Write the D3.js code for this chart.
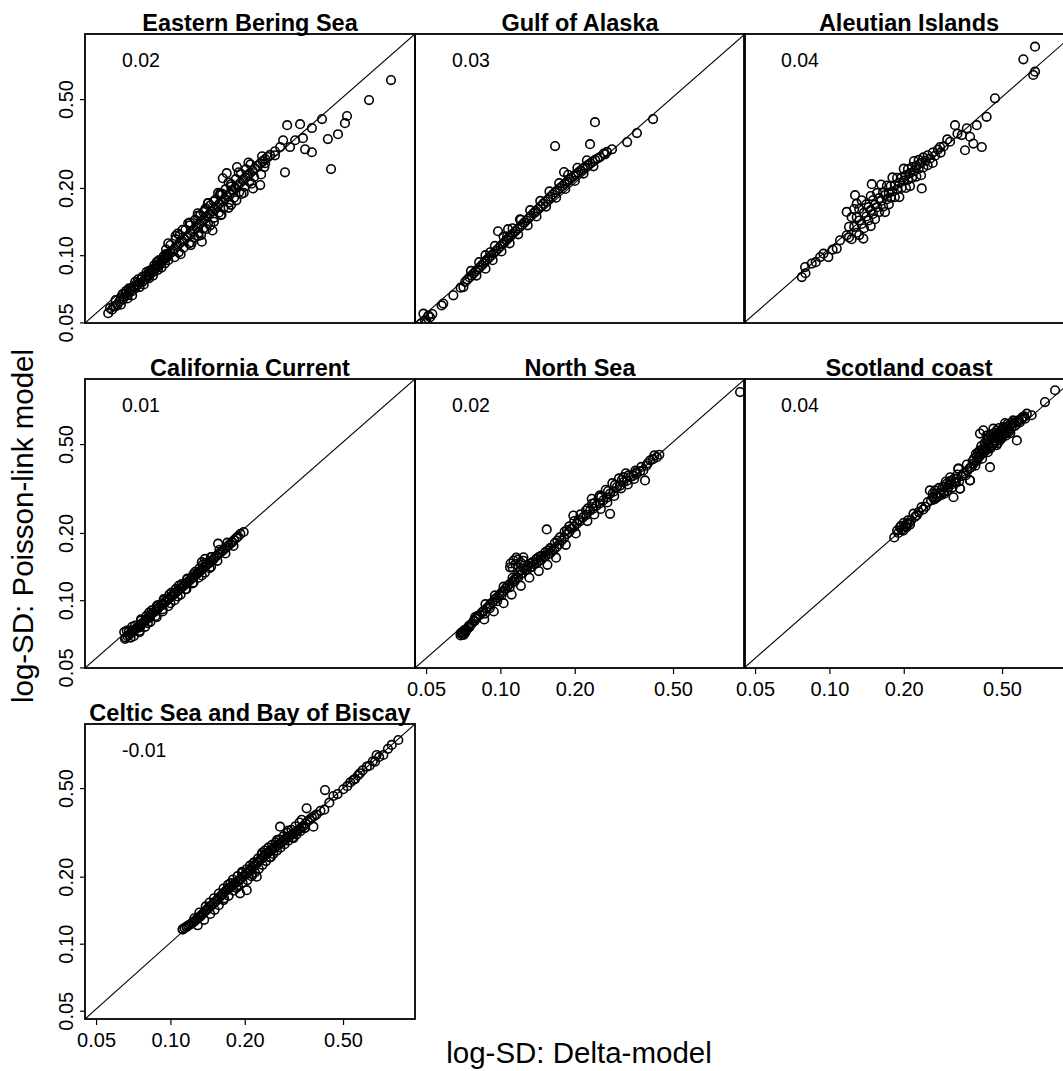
<!DOCTYPE html>
<html>
<head>
<meta charset="utf-8">
<script src="https://cdn.jsdelivr.net/npm/d3@7"></script>
<style>
  html, body { margin: 0; padding: 0; background: #fff; }
  svg { display: block; font-family: "Liberation Sans", Arial, sans-serif; }
</style>
</head>
<body>
<svg id="chart" width="1063" height="1071"></svg>
<script>
// ---------------- DATA ----------------
const titles = ["Eastern Bering Sea", "Gulf of Alaska", "Aleutian Islands",
                "California Current", "North Sea", "Scotland coast",
                "Celtic Sea and Bay of Biscay"];
const meanDiffs = ["0.02", "0.03", "0.04", "0.01", "0.02", "0.04", "-0.01"];
const tickValues = [0.05, 0.10, 0.20, 0.50];
const tickLabels = ["0.05", "0.10", "0.20", "0.50"];
const xLabel = "log-SD: Delta-model";
const yLabel = "log-SD: Poisson-link model";

// [Delta-model log-SD, Poisson-link log-SD]
const easternBeringSea = [
  [0.056,0.055],[0.058,0.057],[0.059,0.059],[0.061,0.060],[0.062,0.062],[0.064,0.063],[0.065,0.065],[0.067,0.066],
  [0.068,0.068],[0.070,0.069],[0.072,0.071],[0.073,0.073],[0.075,0.075],[0.077,0.076],[0.079,0.078],[0.081,0.080],
  [0.083,0.083],[0.085,0.084],[0.087,0.087],[0.089,0.089],[0.091,0.092],[0.093,0.094],[0.095,0.097],[0.097,0.099],
  [0.060,0.063],[0.064,0.067],[0.068,0.071],[0.072,0.076],[0.077,0.080],[0.082,0.085],[0.086,0.090],[0.090,0.095],
  [0.094,0.099],[0.063,0.060],[0.070,0.066],[0.078,0.074],[0.085,0.081],[0.092,0.088],[0.098,0.095],
  [0.057,0.058],[0.060,0.059],[0.063,0.064],[0.066,0.067],[0.069,0.070],[0.071,0.072],[0.074,0.074],[0.076,0.078],
  [0.080,0.081],[0.082,0.082],[0.084,0.086],[0.086,0.086],[0.088,0.090],[0.090,0.090],[0.092,0.094],[0.094,0.096],
  [0.096,0.097],[0.098,0.101],[0.066,0.069],[0.074,0.078],[0.080,0.084],[0.088,0.093],[0.096,0.101],[0.067,0.064],
  [0.075,0.072],[0.082,0.079],[0.089,0.086],[0.095,0.092],
  [0.100,0.102],[0.104,0.107],[0.109,0.113],[0.114,0.118],[0.120,0.125],[0.125,0.131],[0.131,0.138],[0.137,0.145],
  [0.144,0.153],[0.151,0.161],[0.158,0.170],[0.166,0.179],[0.174,0.189],[0.183,0.200],[0.192,0.211],[0.201,0.222],
  [0.210,0.233],[0.220,0.245],[0.231,0.258],[0.242,0.269],[0.253,0.281],[0.265,0.292],[0.278,0.305],
  [0.102,0.1045],[0.1065,0.110],[0.1115,0.1155],[0.117,0.1215],[0.1225,0.128],[0.128,0.1345],[0.134,0.1415],
  [0.1405,0.149],[0.1475,0.157],[0.1545,0.1655],[0.162,0.1745],[0.170,0.184],[0.1785,0.1945],[0.1875,0.2055],
  [0.1965,0.2165],[0.2055,0.2275],[0.215,0.239],[0.2255,0.2515],[0.2365,0.2635],[0.2475,0.275],
  [0.096,0.106],[0.104,0.098],[0.100,0.111],[0.108,0.103],[0.105,0.118],[0.113,0.108],[0.109,0.123],[0.119,0.113],
  [0.115,0.130],[0.125,0.120],[0.120,0.136],[0.130,0.126],[0.126,0.144],[0.136,0.132],[0.132,0.151],[0.142,0.139],
  [0.138,0.159],[0.150,0.147],[0.145,0.167],[0.157,0.155],[0.152,0.177],[0.164,0.163],[0.159,0.186],[0.173,0.172],
  [0.167,0.197],[0.181,0.181],[0.176,0.208],[0.190,0.192],[0.184,0.219],[0.200,0.203],[0.193,0.231],[0.209,0.213],
  [0.202,0.242],[0.218,0.224],[0.211,0.255],[0.240,0.248],
  [0.098,0.113],[0.110,0.101],[0.107,0.125],[0.121,0.111],[0.118,0.139],[0.133,0.123],[0.129,0.154],[0.145,0.136],
  [0.142,0.171],[0.160,0.151],[0.156,0.190],[0.176,0.168],[0.172,0.212],[0.194,0.188],[0.189,0.235],[0.213,0.209],
  [0.207,0.260],[0.233,0.230],
  [0.105,0.122],[0.122,0.114],[0.112,0.130],[0.130,0.122],[0.120,0.140],[0.140,0.131],[0.129,0.150],[0.150,0.141],
  [0.139,0.162],[0.161,0.152],[0.150,0.174],[0.172,0.163],[0.162,0.188],[0.185,0.176],[0.176,0.203],[0.198,0.190],
  [0.136,0.156],[0.142,0.171],[0.159,0.189],[0.163,0.221],[0.169,0.233],[0.186,0.248],[0.235,0.277],[0.148,0.129],
  [0.134,0.115],[0.216,0.199],[0.231,0.206],[0.297,0.382],[0.335,0.386],[0.411,0.407],[0.374,0.371],[0.519,0.420],
  [0.509,0.390],[0.477,0.348],[0.434,0.331],[0.447,0.243],[0.291,0.235],[0.351,0.298],[0.374,0.289],[0.637,0.495],
  [0.782,0.608],[0.286,0.327],[0.305,0.305],[0.320,0.327],[0.344,0.334],[0.265,0.280],[0.242,0.258]
];

const gulfOfAlaska = [
  [0.0465,0.0468],[0.0488,0.0547],[0.0495,0.0510],[0.0511,0.0537],[0.0519,0.0528],[0.0478,0.0495],[0.0502,0.0500],
  [0.0530,0.0545],[0.0578,0.0596],[0.0587,0.0607],[0.0645,0.0661],[0.0708,0.0720],[0.0690,0.0715],
  [0.072,0.076],[0.075,0.0795],[0.078,0.083],[0.081,0.0865],[0.084,0.090],[0.087,0.094],[0.090,0.0975],[0.094,0.102],
  [0.098,0.107],[0.102,0.112],[0.106,0.117],[0.110,0.122],[0.115,0.128],[0.120,0.134],[0.125,0.140],[0.130,0.146],
  [0.136,0.154],[0.142,0.161],[0.149,0.170],[0.156,0.178],[0.163,0.187],[0.170,0.195],[0.178,0.204],[0.186,0.213],
  [0.194,0.222],[0.202,0.230],[0.211,0.239],[0.220,0.248],[0.231,0.258],[0.242,0.267],[0.253,0.275],[0.265,0.283],
  [0.0735,0.0778],[0.0765,0.0812],[0.0795,0.0848],[0.0825,0.0882],[0.0855,0.092],[0.0885,0.0958],[0.092,0.0998],
  [0.096,0.1045],[0.100,0.1095],[0.104,0.1145],[0.108,0.1195],[0.1125,0.125],[0.1175,0.131],[0.1225,0.137],
  [0.1275,0.143],[0.133,0.150],[0.139,0.1575],[0.1455,0.1655],[0.1525,0.174],[0.1595,0.1825],[0.1665,0.191],
  [0.174,0.1995],[0.182,0.2085],[0.190,0.2175],[0.198,0.226],[0.2065,0.2345],[0.2155,0.2435],[0.2255,0.253],
  [0.2365,0.2625],[0.2475,0.271],
  [0.076,0.085],[0.080,0.081],[0.082,0.093],[0.087,0.087],[0.087,0.100],[0.093,0.095],[0.095,0.110],[0.101,0.104],
  [0.103,0.121],[0.109,0.113],[0.112,0.132],[0.118,0.124],[0.121,0.144],[0.129,0.136],[0.132,0.159],[0.140,0.149],
  [0.145,0.175],[0.153,0.165],[0.158,0.193],[0.168,0.181],[0.173,0.210],[0.183,0.198],[0.188,0.229],[0.200,0.215],
  [0.205,0.246],[0.217,0.232],[0.224,0.266],[0.238,0.250],
  [0.2415,0.394],[0.1665,0.308],[0.2306,0.314],[0.181,0.2355],[0.0978,0.128],[0.1074,0.1307],[0.120,0.1448],
  [0.0908,0.103],[0.138,0.1556],[0.1064,0.1215],
  [0.283,0.298],[0.326,0.321],[0.357,0.352],[0.415,0.407],[0.270,0.290],[0.262,0.285]
];

const aleutianIslands = [
  [0.0773,0.0798],[0.0797,0.0885],[0.0848,0.0917],[0.0917,0.0981],[0.0946,0.1016],[0.099,0.0981],[0.1071,0.107],
  [0.1104,0.1166],[0.1175,0.1228],[0.0800,0.0830],[0.0880,0.0930],[0.1030,0.1060],
  [0.120,0.120],[0.120,0.134],[0.123,0.148],[0.123,0.118],[0.126,0.134],[0.126,0.161],[0.129,0.126],[0.129,0.148],
  [0.132,0.143],[0.132,0.161],[0.132,0.123],[0.135,0.138],[0.135,0.176],[0.138,0.155],[0.138,0.132],[0.141,0.149],
  [0.141,0.169],[0.144,0.143],[0.144,0.164],[0.147,0.184],[0.147,0.159],[0.147,0.135],[0.150,0.153],[0.150,0.176],
  [0.153,0.168],[0.153,0.145],[0.156,0.164],[0.156,0.190],[0.159,0.156],[0.159,0.180],[0.162,0.175],[0.162,0.207],
  [0.165,0.165],[0.165,0.191],[0.168,0.186],[0.168,0.156],[0.171,0.178],[0.171,0.205],[0.174,0.190],[0.174,0.169],
  [0.177,0.204],[0.177,0.181],[0.180,0.193],[0.180,0.223],[0.184,0.182],[0.184,0.206],[0.188,0.197],[0.188,0.222],
  [0.192,0.211],[0.192,0.182],[0.196,0.200],[0.196,0.223],[0.200,0.216],[0.200,0.244],[0.204,0.200],[0.204,0.228],
  [0.208,0.218],[0.208,0.243],[0.212,0.233],[0.212,0.204],[0.216,0.222],[0.216,0.248],[0.220,0.238],[0.220,0.264],
  [0.225,0.225],[0.225,0.252],[0.230,0.244],[0.230,0.267],[0.235,0.259],[0.235,0.228],[0.240,0.247],[0.240,0.274],
  [0.245,0.265],[0.250,0.253],[0.250,0.280],[0.256,0.271],[0.262,0.288],[0.262,0.259],[0.268,0.279],[0.275,0.297],
  [0.282,0.288],[0.290,0.307],
  [0.1175,0.1562],[0.127,0.1856],[0.1484,0.208],[0.129,0.170],[0.1372,0.1187],[0.2365,0.199],[0.308,0.322],
  [0.3225,0.382],[0.3435,0.345],[0.371,0.339],[0.395,0.382],[0.3826,0.316],[0.354,0.295],[0.414,0.305],
  [0.433,0.4165],[0.468,0.504],[0.610,0.753],[0.680,0.858],[0.680,0.663],[0.669,0.641],[0.2805,0.305],
  [0.300,0.330],[0.330,0.350],[0.360,0.370]
];

const californiaCurrent = [
  [0.0655,0.0671],[0.0666,0.0730],[0.0753,0.0756],[0.0827,0.0838],
  [0.066,0.068],[0.068,0.070],[0.070,0.072],[0.072,0.074],[0.074,0.076],[0.076,0.078],[0.078,0.080],[0.080,0.082],
  [0.082,0.084],[0.084,0.087],[0.087,0.089],[0.089,0.092],[0.092,0.095],[0.095,0.098],[0.098,0.101],[0.101,0.104],
  [0.104,0.107],[0.107,0.110],[0.110,0.113],[0.114,0.117],[0.118,0.121],[0.122,0.125],[0.126,0.129],[0.130,0.133],
  [0.134,0.137],[0.139,0.142],[0.144,0.147],[0.149,0.152],[0.154,0.158],[0.160,0.164],[0.166,0.170],[0.172,0.176],
  [0.178,0.182],[0.185,0.190],[0.192,0.198],[0.198,0.202],
  [0.067,0.069],[0.069,0.071],[0.071,0.073],[0.073,0.075],[0.075,0.077],[0.077,0.079],[0.079,0.081],[0.081,0.083],
  [0.083,0.086],[0.085,0.088],[0.088,0.091],[0.090,0.093],[0.093,0.096],[0.096,0.099],[0.099,0.102],[0.102,0.105],
  [0.105,0.108],[0.108,0.111],[0.112,0.115],[0.116,0.119],[0.120,0.123],[0.124,0.127],[0.128,0.131],[0.132,0.135],
  [0.136,0.140],[0.141,0.145],[0.146,0.150],[0.151,0.155],[0.157,0.161],[0.163,0.167],[0.169,0.173],[0.175,0.179],
  [0.181,0.186],[0.188,0.193],
  [0.068,0.073],[0.072,0.077],[0.076,0.081],[0.080,0.085],[0.084,0.090],[0.089,0.095],[0.094,0.100],[0.099,0.106],
  [0.105,0.112],[0.111,0.118],[0.117,0.124],[0.124,0.131],[0.131,0.139],[0.139,0.147],[0.147,0.156],[0.071,0.069],
  [0.075,0.072],[0.079,0.076],[0.083,0.080],[0.088,0.084],[0.093,0.089],[0.098,0.094],[0.104,0.100],[0.110,0.106],
  [0.116,0.112],[0.123,0.119],[0.130,0.126],[0.138,0.133],[0.146,0.141],
  [0.065,0.072],[0.069,0.068],[0.070,0.076],[0.075,0.073],[0.076,0.082],[0.081,0.079],[0.082,0.088],[0.087,0.085],
  [0.088,0.094],[0.093,0.091],[0.094,0.101],[0.100,0.097],[0.101,0.108],[0.107,0.104],[0.108,0.116],[0.115,0.112],
  [0.117,0.125],[0.124,0.120],[0.126,0.134],[0.134,0.129],[0.135,0.144],[0.144,0.139],[0.146,0.156],[0.155,0.150],
  [0.158,0.168],[0.167,0.162],[0.170,0.181],[0.180,0.175],[0.138,0.153],[0.156,0.179],[0.134,0.148]
];

const northSea = [
  [0.0690,0.0695],[0.0700,0.0705],[0.0710,0.0700],[0.0700,0.0720],[0.0720,0.0715],[0.0690,0.0710],[0.0730,0.0740],
  [0.0715,0.0735],[0.0740,0.0750],[0.0750,0.0760],[0.0719,0.0730],[0.0802,0.0838],
  [0.075,0.077],[0.078,0.081],[0.081,0.085],[0.084,0.088],[0.088,0.092],[0.091,0.096],[0.095,0.101],[0.099,0.105],
  [0.103,0.110],[0.107,0.116],[0.112,0.121],[0.116,0.126],[0.121,0.131],[0.126,0.136],[0.132,0.140],[0.137,0.145],
  [0.143,0.150],[0.149,0.156],[0.156,0.161],[0.162,0.166],[0.169,0.173],[0.177,0.185],[0.186,0.198],[0.194,0.209],
  [0.204,0.220],[0.216,0.235],[0.231,0.252],[0.245,0.265],[0.261,0.280],[0.278,0.300],[0.296,0.321],[0.315,0.338],
  [0.335,0.356],[0.356,0.368],[0.379,0.381],[0.404,0.423],[0.430,0.437],
  [0.0705,0.0712],[0.0725,0.0728],[0.0745,0.0765],[0.0765,0.0785],[0.0785,0.0805],[0.0795,0.0825],[0.0825,0.0860],
  [0.0855,0.0895],[0.0865,0.087],[0.0895,0.0935],[0.0905,0.092],[0.093,0.098],[0.097,0.099],[0.097,0.103],
  [0.101,0.108],[0.101,0.105],[0.105,0.113],[0.109,0.114],[0.109,0.118],[0.114,0.121],[0.114,0.124],[0.118,0.126],
  [0.119,0.134],[0.123,0.132],[0.124,0.139],[0.128,0.137],[0.129,0.143],[0.134,0.141],[0.135,0.148],[0.140,0.146],
  [0.140,0.153],[0.146,0.151],[0.146,0.158],[0.152,0.157],[0.152,0.164],[0.159,0.162],[0.159,0.171],[0.165,0.169],
  [0.166,0.180],[0.173,0.178],[0.174,0.191],[0.181,0.190],[0.182,0.203],[0.190,0.202],[0.190,0.214],[0.199,0.213],
  [0.199,0.226],[0.210,0.226],[0.211,0.242],[0.223,0.241],[0.226,0.258],[0.238,0.257],[0.240,0.272],[0.253,0.271],
  [0.256,0.290],[0.270,0.288],[0.273,0.308],[0.287,0.306],[0.291,0.328],[0.305,0.326],[0.310,0.345],[0.325,0.342],
  [0.330,0.362],[0.345,0.360],[0.352,0.380],[0.368,0.378],[0.372,0.395],[0.390,0.400],[0.395,0.410],[0.415,0.428],
  [0.420,0.445],[0.440,0.448],
  [0.079,0.084],[0.086,0.082],[0.087,0.096],[0.094,0.089],[0.095,0.105],[0.103,0.097],[0.103,0.115],[0.111,0.106],
  [0.112,0.126],[0.121,0.116],[0.121,0.136],[0.131,0.126],[0.132,0.146],[0.143,0.135],[0.143,0.156],[0.155,0.144],
  [0.156,0.167],[0.168,0.155],[0.170,0.185],[0.184,0.177],[0.186,0.206],[0.202,0.199],[0.207,0.229],[0.225,0.226],
  [0.222,0.252],[0.240,0.242],[0.235,0.270],[0.255,0.256],[0.250,0.289],[0.271,0.274],[0.267,0.312],[0.289,0.293],
  [0.284,0.334],[0.308,0.317],[0.302,0.351],[0.328,0.330],[0.322,0.370],[0.348,0.349],
  [0.115,0.145],[0.118,0.152],[0.121,0.147],[0.110,0.146],[0.116,0.155],[0.124,0.150],[0.112,0.140],
  [0.154,0.2073],[0.1094,0.1403],[0.113,0.1505],[0.1239,0.1556],[0.1974,0.2394],[0.2344,0.2845],[0.253,0.2944],
  [0.278,0.2437],[0.3147,0.3555],[0.356,0.3745],[0.385,0.3439],[0.934,0.855]
];

const scotlandCoast = [
  [0.183,0.191],[0.190,0.200],[0.193,0.212],[0.199,0.205],[0.203,0.214],[0.206,0.220],[0.196,0.207],[0.210,0.222],
  [0.214,0.228],[0.219,0.244],[0.222,0.236],[0.226,0.240],[0.230,0.248],[0.236,0.261],[0.240,0.255],[0.245,0.262],
  [0.250,0.275],[0.255,0.310],[0.258,0.280],[0.262,0.290],[0.266,0.283],[0.270,0.300],[0.275,0.292],[0.280,0.300],
  [0.285,0.313],[0.290,0.305],[0.294,0.322],[0.298,0.332],[0.302,0.318],[0.308,0.355],[0.312,0.330],[0.318,0.289],
  [0.322,0.340],[0.327,0.350],[0.333,0.388],[0.338,0.316],[0.343,0.360],[0.350,0.370],[0.356,0.362],[0.362,0.380],
  [0.371,0.344],[0.376,0.395],[0.383,0.408],[0.390,0.400],[0.396,0.420],[0.402,0.436],[0.407,0.469],[0.410,0.450],
  [0.415,0.430],[0.420,0.576],[0.424,0.470],[0.428,0.490],[0.434,0.519],[0.438,0.460],[0.442,0.500],[0.447,0.394],
  [0.450,0.480],[0.455,0.530],[0.461,0.557],[0.461,0.586],[0.466,0.510],[0.470,0.545],[0.476,0.495],[0.480,0.530],
  [0.486,0.560],[0.492,0.540],[0.498,0.575],[0.506,0.596],[0.510,0.555],[0.514,0.621],[0.520,0.580],[0.527,0.600],
  [0.535,0.570],[0.540,0.610],[0.548,0.600],[0.555,0.638],[0.560,0.620],[0.574,0.519],[0.585,0.640],[0.600,0.650],
  [0.615,0.665],[0.630,0.684],[0.659,0.673],[0.746,0.771],[0.820,0.871],[0.407,0.557],[0.433,0.545],
  [0.395,0.440],[0.415,0.470],[0.430,0.480],[0.445,0.520],[0.460,0.505],[0.475,0.575],[0.490,0.520],[0.505,0.545],
  [0.520,0.560],[0.380,0.420],[0.370,0.390],[0.360,0.405],[0.3326,0.388],[0.338,0.3155],[0.3707,0.3439],
  [0.262,0.300],[0.268,0.310],[0.272,0.288],[0.278,0.318],[0.283,0.295],[0.288,0.322],[0.292,0.300],[0.296,0.340],
  [0.300,0.310],[0.305,0.330],[0.310,0.342],[0.315,0.320],[0.320,0.350],[0.325,0.335],[0.330,0.365],[0.335,0.340],
  [0.188,0.205],[0.195,0.215],[0.200,0.222],[0.205,0.212],[0.208,0.228],[0.212,0.218],
  [0.385,0.430],[0.392,0.452],[0.400,0.460],[0.405,0.440],[0.412,0.490],[0.418,0.455],[0.425,0.505],[0.432,0.470],
  [0.438,0.530],[0.444,0.485],[0.450,0.550],[0.456,0.495],[0.462,0.540],[0.468,0.520],[0.474,0.560],[0.480,0.505],
  [0.486,0.590],[0.492,0.555],[0.498,0.530],[0.504,0.570],[0.512,0.590],[0.518,0.545],[0.525,0.615],[0.532,0.585],
  [0.540,0.560],[0.550,0.625],[0.565,0.605],[0.575,0.630],[0.590,0.625],[0.605,0.660],[0.620,0.650]
];

const celticSeaBiscay = [
  [0.1122,0.1160],[0.1165,0.1192],[0.122,0.1235],[0.1318,0.1322],[0.1403,0.1417],
  [0.112,0.116],[0.116,0.119],[0.120,0.122],[0.124,0.125],[0.128,0.129],[0.132,0.133],[0.136,0.137],[0.140,0.142],
  [0.145,0.147],[0.150,0.152],[0.155,0.158],[0.160,0.164],[0.165,0.170],[0.171,0.176],[0.177,0.181],[0.183,0.187],
  [0.190,0.193],[0.197,0.200],[0.204,0.207],[0.211,0.215],[0.218,0.223],[0.226,0.232],[0.234,0.241],[0.242,0.250],
  [0.250,0.258],[0.259,0.266],[0.268,0.273],[0.278,0.282],[0.288,0.291],[0.298,0.300],[0.310,0.309],[0.322,0.318],
  [0.334,0.328],[0.346,0.338],[0.360,0.355],[0.374,0.368],[0.390,0.380],[0.405,0.395],
  [0.114,0.1175],[0.118,0.1205],[0.122,0.1235],[0.126,0.127],[0.130,0.131],[0.134,0.135],[0.138,0.1395],
  [0.1425,0.1445],[0.1475,0.1495],[0.1525,0.155],[0.1575,0.161],[0.1625,0.167],[0.168,0.173],[0.174,0.1785],
  [0.180,0.184],[0.1865,0.190],[0.1935,0.1965],[0.2005,0.2035],[0.2075,0.211],[0.2145,0.219],[0.222,0.2275],
  [0.230,0.2365],[0.238,0.2455],[0.246,0.254],[0.2545,0.262],[0.2635,0.2695],[0.273,0.2775],[0.283,0.2865],
  [0.293,0.2955],[0.304,0.3045],[0.316,0.3135],[0.328,0.323],[0.340,0.333],[0.353,0.3465],[0.367,0.3615],[0.382,0.374],
  [0.165,0.160],[0.175,0.187],[0.185,0.178],[0.195,0.210],[0.215,0.205],[0.235,0.256],[0.255,0.245],[0.270,0.292],
  [0.300,0.322],[0.315,0.298],[0.340,0.360],[0.350,0.330],
  [0.125,0.130],[0.129,0.121],[0.131,0.138],[0.137,0.128],[0.139,0.147],[0.145,0.136],[0.144,0.153],[0.151,0.142],
  [0.150,0.160],[0.157,0.149],[0.157,0.168],[0.164,0.157],[0.164,0.177],[0.172,0.164],[0.171,0.184],[0.180,0.173],
  [0.179,0.194],[0.188,0.181],[0.187,0.201],[0.196,0.188],[0.195,0.208],[0.205,0.193],[0.203,0.216],[0.213,0.201],
  [0.210,0.224],[0.220,0.209],[0.218,0.232],[0.228,0.217],[0.226,0.241],[0.236,0.226],[0.234,0.251],[0.244,0.235],
  [0.241,0.262],[0.252,0.244],[0.249,0.270],[0.261,0.253],[0.258,0.278],[0.270,0.262],[0.267,0.285],[0.279,0.270],
  [0.276,0.294],[0.290,0.280],[0.287,0.304],[0.300,0.290],[0.298,0.315],[0.312,0.300],[0.309,0.325],[0.324,0.310],
  [0.321,0.337],[0.336,0.320],[0.333,0.350],[0.350,0.332],
  [0.1914,0.1684],[0.2037,0.174],[0.278,0.3354],[0.356,0.4055],[0.4226,0.490],[0.3793,0.3354],[0.457,0.4607],
  [0.501,0.494],[0.551,0.544],[0.586,0.583],[0.624,0.624],[0.674,0.657],[0.684,0.704],[0.728,0.704],[0.787,0.781],
  [0.837,0.822],[0.2167,0.2296],[0.2237,0.200],
  [0.420,0.400],[0.440,0.430],[0.475,0.470],[0.520,0.510],[0.535,0.530],[0.560,0.550],[0.575,0.570],[0.600,0.600],
  [0.640,0.630],[0.660,0.660],[0.700,0.690],[0.760,0.750]
];

const panelData = [easternBeringSea, gulfOfAlaska, aleutianIslands, californiaCurrent,
                   northSea, scotlandCoast, celticSeaBiscay];

// ---------------- LAYOUT ----------------
const panelLefts   = [85, 415, 744, 85, 415, 744, 85];
const panelTops    = [34, 34, 34, 379, 379, 379, 724];
const panelHeights = [289, 289, 289, 289, 289, 289, 295];
const panelWidth = 330;
const showYAxis = [true, false, false, true, false, false, true];
const showXAxis = [false, false, false, false, true, true, true];
const xDomain = [0.0451, 0.978];
const yDomains = [[0.0497,0.978],[0.0497,0.978],[0.0497,0.978],
                  [0.0497,0.978],[0.0497,0.978],[0.0497,0.978],[0.0459,0.970]];

const svg = d3.select("#chart");
svg.append("rect").attr("width", 1063).attr("height", 1071).attr("fill", "#fff");

panelData.forEach((pts, i) => {
  const L = panelLefts[i], T = panelTops[i], Hh = panelHeights[i];
  const x = d3.scaleLog().domain(xDomain).range([L, L + panelWidth]);
  const y = d3.scaleLog().domain(yDomains[i]).range([T + Hh, T]);

  const clipId = "clip" + i;
  svg.append("clipPath").attr("id", clipId)
    .append("rect").attr("x", L).attr("y", T).attr("width", panelWidth).attr("height", Hh);

  const g = svg.append("g").attr("clip-path", `url(#${clipId})`);

  // 1:1 reference line across the panel
  const ref = [[xDomain[0], yDomains[i][0]], [xDomain[1], yDomains[i][1]]];
  g.append("path")
    .attr("d", d3.line().x(d => x(d[0])).y(d => y(d[1]))(ref))
    .attr("stroke", "#000").attr("stroke-width", 1.1).attr("fill", "none");

  g.selectAll("circle").data(pts).enter().append("circle")
    .attr("cx", d => x(d[0])).attr("cy", d => y(d[1]))
    .attr("r", 4.3)
    .attr("fill", "none").attr("stroke", "#000").attr("stroke-width", 1.6);

  // frame
  svg.append("rect").attr("x", L).attr("y", T).attr("width", panelWidth).attr("height", Hh)
    .attr("fill", "none").attr("stroke", "#000").attr("stroke-width", 1.8);

  // title
  svg.append("text").attr("x", L + panelWidth / 2).attr("y", T - 3)
    .attr("text-anchor", "middle").attr("font-weight", "bold").attr("font-size", "23.5px")
    .attr("fill", "#000").text(titles[i]);

  // mean difference annotation
  svg.append("text").attr("x", L + 37).attr("y", T + 33)
    .attr("font-size", "19.5px").attr("fill", "#000").text(meanDiffs[i]);

  if (showYAxis[i]) {
    const ax = svg.append("g").attr("transform", `translate(${L},0)`)
      .call(d3.axisLeft(y).tickValues(tickValues).tickFormat((d, k) => tickLabels[k]).tickSize(5));
    ax.select(".domain").remove();
    ax.selectAll(".tick line").attr("stroke", "#000").attr("stroke-width", 1.2);
    ax.selectAll(".tick text")
      .attr("transform", "rotate(-90)")
      .attr("x", 0).attr("y", -12).attr("dy", 0)
      .attr("text-anchor", "middle")
      .attr("font-size", "20px").attr("fill", "#000")
      .attr("font-family", "Liberation Sans, Arial, sans-serif");
  }
  if (showXAxis[i]) {
    const ax = svg.append("g").attr("transform", `translate(0,${T + Hh})`)
      .call(d3.axisBottom(x).tickValues(tickValues).tickFormat((d, k) => tickLabels[k]).tickSize(6));
    ax.select(".domain").remove();
    ax.selectAll(".tick line").attr("stroke", "#000").attr("stroke-width", 1.2);
    ax.selectAll(".tick text")
      .attr("y", 28).attr("dy", 0)
      .attr("font-size", "20px").attr("fill", "#000")
      .attr("font-family", "Liberation Sans, Arial, sans-serif");
  }
});

// axis titles
svg.append("text").attr("x", 579).attr("y", 1063)
  .attr("text-anchor", "middle").attr("font-size", "29.5px").attr("fill", "#000").text(xLabel);
svg.append("text").attr("transform", "translate(33,526) rotate(-90)")
  .attr("text-anchor", "middle").attr("font-size", "29.5px").attr("fill", "#000").text(yLabel);
</script>
</body>
</html>
